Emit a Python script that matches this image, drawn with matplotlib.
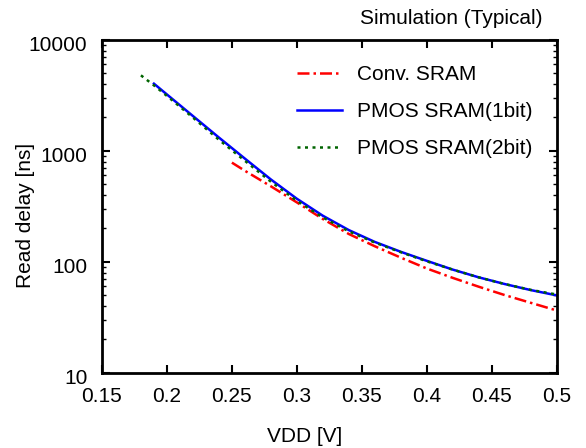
import matplotlib
matplotlib.use("Agg")
import matplotlib.pyplot as plt
import matplotlib.transforms as mtransforms
from matplotlib.ticker import LogLocator, NullFormatter, FixedLocator

plt.rcParams['font.family'] = ['Liberation Sans', 'DejaVu Sans']

# Conv. SRAM
vdd_conv = [0.25, 0.26, 0.28, 0.30, 0.32, 0.34, 0.36, 0.38, 0.40, 0.42, 0.44, 0.46, 0.48, 0.50]
delay_conv = [783, 661, 479, 343, 243, 178, 138, 109, 87, 71.6, 59.6, 50.1, 42.7, 36.4]

# PMOS SRAM (1bit)
vdd_1bit = [0.19, 0.20, 0.22, 0.24, 0.26, 0.28, 0.30, 0.32, 0.34, 0.36, 0.38, 0.40, 0.42, 0.44, 0.46, 0.48, 0.50]
delay_1bit = [4030, 3220, 2060, 1318, 851, 552, 370, 260, 193, 151, 123, 102, 85, 72.4, 63, 55.6, 49.8]

# PMOS SRAM (2bit)
vdd_2bit = [0.18, 0.19, 0.20, 0.22, 0.24, 0.26, 0.28, 0.30, 0.32, 0.34, 0.36, 0.38, 0.40, 0.42, 0.44, 0.46, 0.48, 0.50]
delay_2bit = [4790, 3890, 3126, 1995, 1259, 813, 527, 355, 251, 188, 149, 122, 101, 85, 72.4, 63, 55.8, 50.7]

xticks = [0.15, 0.2, 0.25, 0.3, 0.35, 0.4, 0.45, 0.5]
xticklabels = ['0.15', '0.2', '0.25', '0.3', '0.35', '0.4', '0.45', '0.5']
yticks = [10, 100, 1000, 10000]
yticklabels = ['10', '100', '1000', '10000']

FS = 15

fig = plt.figure(figsize=(5.86, 4.48), dpi=100)
ax = fig.add_axes([0.174, 0.168, 0.776, 0.743])

ax.plot(vdd_conv, delay_conv, color='red', linestyle=(0, (4.8, 1.6, 1, 1.6)), lw=1.8, label='Conv. SRAM')
ax.plot(vdd_1bit, delay_1bit, color='blue', linestyle='-', lw=1.8, label='PMOS SRAM(1bit)')
ax.plot(vdd_2bit, delay_2bit, color='#006400', linestyle=(0, (1.2, 1.8)), lw=1.8, label='PMOS SRAM(2bit)')

ax.set_yscale('log')
ax.set_xlim(0.15, 0.5)
ax.set_ylim(10, 10000)
ax.set_xticks(xticks)
ax.set_xticklabels(xticklabels)
ax.yaxis.set_major_locator(FixedLocator(yticks))
ax.set_yticklabels(yticklabels)
ax.yaxis.set_minor_locator(LogLocator(base=10, subs=range(2, 10)))
ax.yaxis.set_minor_formatter(NullFormatter())

ax.tick_params(which='both', direction='in', top=True, right=True, labelsize=FS)
ax.tick_params(axis='x', which='major', length=6, width=1.5, pad=10)
ax.tick_params(axis='y', which='major', length=6, width=1.5, pad=10.5)
ax.tick_params(which='minor', length=3, width=1)
for s in ax.spines.values():
    s.set_linewidth(2)

# y tick labels sit a little below their ticks
shift = mtransforms.ScaledTranslation(0, -4 / 100, fig.dpi_scale_trans)
for lab in ax.get_yticklabels():
    lab.set_transform(lab.get_transform() + shift)

ax.set_xlabel('VDD [V]', fontsize=FS)
ax.xaxis.set_label_coords(0.445, -0.193)
ax.xaxis.label.set_va('center')
ax.set_ylabel('Read delay [ns]', fontsize=FS)
ax.yaxis.set_label_coords(-0.169, 0.473)
ax.yaxis.label.set_va('center')

ax.legend(loc='upper left', frameon=False, fontsize=FS, handlelength=2.16,
          handletextpad=0.72, labelspacing=0.87, borderpad=0, borderaxespad=0,
          bbox_to_anchor=(0.428, 0.925))

fig.text(0.9266, 0.958, 'Simulation (Typical)', ha='right', va='center', fontsize=FS)

fig.savefig('out.png', dpi=100)
